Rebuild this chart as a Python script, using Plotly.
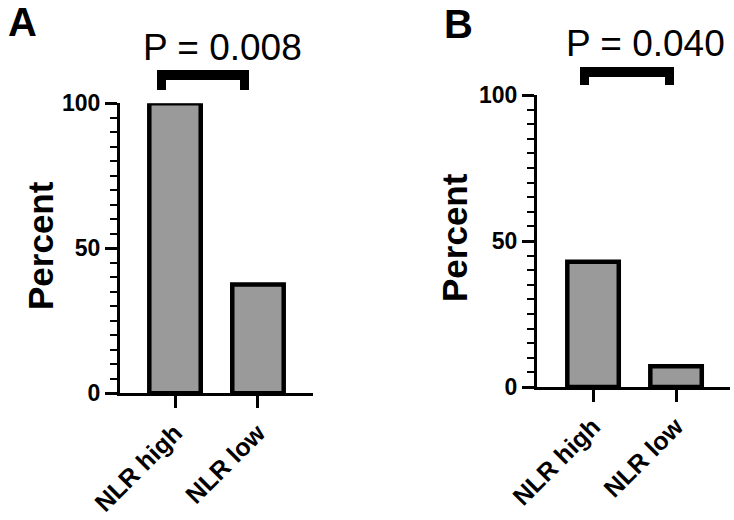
import plotly.graph_objects as go

W, H = 734, 520

categories = ["NLR high", "NLR low"]
values_a = [100, 37.5]
values_b = [42.9, 7.1]
y_ticks = [0, 50, 100]
p_text_a = "P = 0.008"
p_text_b = "P = 0.040"
panel_labels = ["A", "B"]
y_title = "Percent"

FONT = "Arial, Liberation Sans, Helvetica, sans-serif"
BAR_FILL = "#9a9a9a"


def fx(px):
    return px / W


def fy(py):
    return 1 - py / H


fig = go.Figure()
fig.add_trace(go.Bar(x=categories, y=values_a, xaxis="x", yaxis="y",
                     marker=dict(color=BAR_FILL, line=dict(color="black", width=4.5)),
                     width=0.62, showlegend=False, hoverinfo="skip"))
fig.add_trace(go.Bar(x=categories, y=values_b, xaxis="x2", yaxis="y2",
                     marker=dict(color=BAR_FILL, line=dict(color="black", width=4.5)),
                     width=0.62, showlegend=False, hoverinfo="skip"))


def yax(domain, anchor):
    return dict(domain=domain, anchor=anchor, range=[0, 100], tickvals=y_ticks,
                automargin=False,
                showline=True, linecolor="black", linewidth=3,
                ticks="outside", ticklen=12, tickwidth=3, tickcolor="black",
                minor=dict(dtick=5, ticks="outside", ticklen=7, tickwidth=2, tickcolor="black"),
                showgrid=False, zeroline=False,
                tickfont=dict(family=FONT, size=23, color="black", weight="bold"))


def xax(domain, anchor, rng):
    return dict(domain=domain, anchor=anchor, type="category", range=rng,
                automargin=False,
                showline=True, linecolor="black", linewidth=3,
                ticks="outside", ticklen=12, tickwidth=3, tickcolor="black",
                showgrid=False, zeroline=False, tickangle=-45,
                tickfont=dict(family=FONT, size=25, color="black", weight="bold"))


fig.update_layout(
    template="none",
    width=W, height=H, margin=dict(l=0, r=0, t=0, b=0, pad=0), autosize=False,
    paper_bgcolor="white", plot_bgcolor="white",
    xaxis=xax([fx(120), fx(313)], "y", [-0.663, 1.663]),
    yaxis=yax([fy(393.3), fy(103.3)], "x"),
    xaxis2=xax([fx(537), fx(730)], "y2", [-0.675, 1.650]),
    yaxis2=yax([fy(387), fy(95)], "x2"),
)

annotations = []
# panel letters
annotations.append(dict(x=fx(22), y=fy(22), xref="paper", yref="paper", text=panel_labels[0],
                        showarrow=False, xanchor="center", yanchor="middle",
                        font=dict(family=FONT, size=40, color="black", weight="bold")))
annotations.append(dict(x=fx(458), y=fy(24), xref="paper", yref="paper", text=panel_labels[1],
                        showarrow=False, xanchor="center", yanchor="middle",
                        font=dict(family=FONT, size=40, color="black", weight="bold")))
# p-values
annotations.append(dict(x=fx(222), y=fy(47), xref="paper", yref="paper", text=p_text_a,
                        showarrow=False, xanchor="center", yanchor="middle",
                        font=dict(family=FONT, size=37, color="black")))
annotations.append(dict(x=fx(645), y=fy(43), xref="paper", yref="paper", text=p_text_b,
                        showarrow=False, xanchor="center", yanchor="middle",
                        font=dict(family=FONT, size=37, color="black")))
# y titles
annotations.append(dict(x=fx(40), y=fy(246), xref="paper", yref="paper", text=y_title,
                        showarrow=False, xanchor="center", yanchor="middle", textangle=-90,
                        font=dict(family=FONT, size=35, color="black", weight="bold")))
annotations.append(dict(x=fx(455), y=fy(238), xref="paper", yref="paper", text=y_title,
                        showarrow=False, xanchor="center", yanchor="middle", textangle=-90,
                        font=dict(family=FONT, size=35, color="black", weight="bold")))
fig.update_layout(annotations=annotations)

shapes = []


def bracket(x0, x1, leg_w, ytop, ybar, ybot):
    out = []
    for (a, b, c, d) in [(x0, x1, ytop, ybar), (x0, x0 + leg_w, ytop, ybot), (x1 - leg_w, x1, ytop, ybot)]:
        out.append(dict(type="rect", xref="paper", yref="paper",
                        x0=fx(a), x1=fx(b), y0=fy(d), y1=fy(c),
                        fillcolor="black", line=dict(width=0)))
    return out


shapes += bracket(157, 249, 9, 70, 80, 90)
shapes += bracket(580, 674, 9, 67, 77, 85)
fig.update_layout(shapes=shapes)

fig.write_html("out.html", config={"displayModeBar": False},
               post_script="document.body.style.margin='0';")
